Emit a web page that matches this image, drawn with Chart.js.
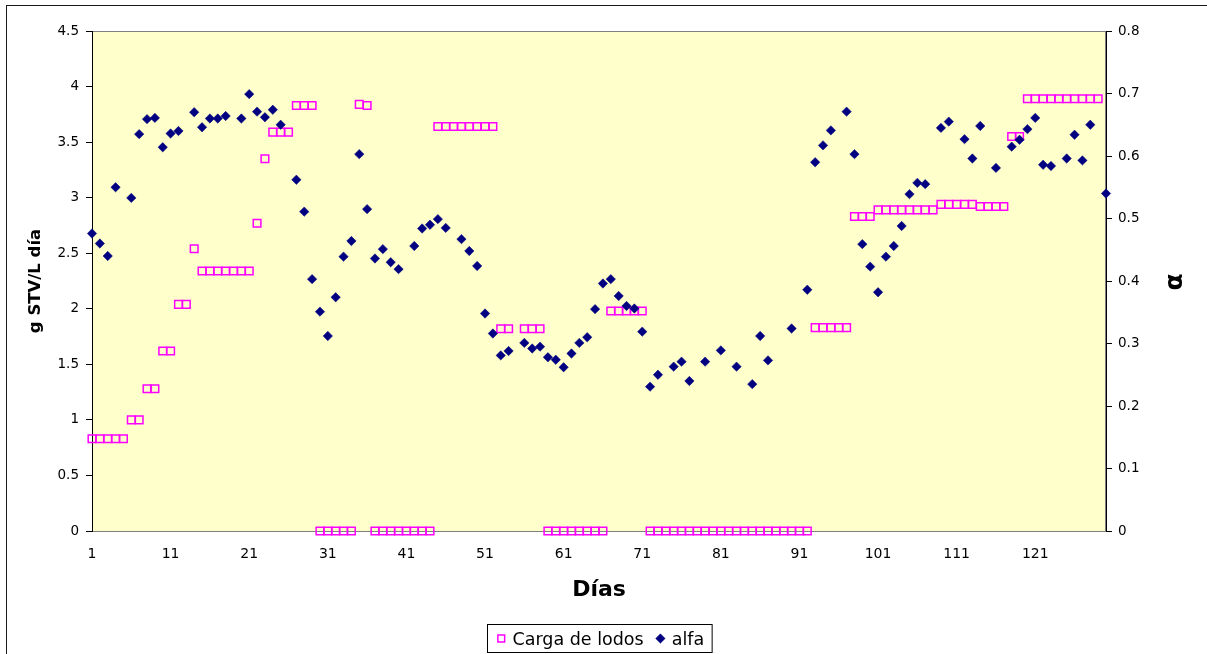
<!DOCTYPE html>
<html lang="es">
<head>
<meta charset="utf-8">
<title>Carga de lodos y alfa</title>
<script src="https://cdn.jsdelivr.net/npm/chart.js@4.4.1/dist/chart.umd.min.js"></script>
<style>
  html, body { margin: 0; padding: 0; background: #fff; overflow: hidden; width: 1207px; height: 654px; }
  #marco { position: absolute; left: 6px; top: 5px; width: 1300px; height: 800px; border: 1px solid #1a1a1a; box-sizing: border-box; }
  #grafico { position: absolute; left: 0; top: 0; }
</style>
</head>
<body>
<div id="marco"></div>
<canvas id="grafico" width="1207" height="654"></canvas>
<script>
// Días del ensayo (categorías del eje X)
const dias = Array.from({ length: 130 }, (_, i) => String(i + 1));
const diasRotulados = ['1', '11', '21', '31', '41', '51', '61', '71', '81', '91', '101', '111', '121'];

// Carga de lodos, g STV/L día (eje izquierdo); null = sin dato
const cargaLodos = [
  0.83, 0.83, 0.83, 0.83, 0.83, 1.00, 1.00, 1.28, 1.28, 1.62,
  1.62, 2.04, 2.04, 2.54, 2.34, 2.34, 2.34, 2.34, 2.34, 2.34,
  2.34, 2.77, 3.35, 3.59, 3.59, 3.59, 3.83, 3.83, 3.83, 0,
  0, 0, 0, 0, 3.84, 3.83, 0, 0, 0, 0,
  0, 0, 0, 0, 3.64, 3.64, 3.64, 3.64, 3.64, 3.64,
  3.64, 3.64, 1.82, 1.82, null, 1.82, 1.82, 1.82, 0, 0,
  0, 0, 0, 0, 0, 0, 1.98, 1.98, 1.98, 1.98,
  1.98, 0, 0, 0, 0, 0, 0, 0, 0, 0,
  0, 0, 0, 0, 0, 0, 0, 0, 0, 0,
  0, 0, 1.83, 1.83, 1.83, 1.83, 1.83, 2.83, 2.83, 2.83,
  2.89, 2.89, 2.89, 2.89, 2.89, 2.89, 2.89, 2.89, 2.94, 2.94,
  2.94, 2.94, 2.94, 2.92, 2.92, 2.92, 2.92, 3.55, 3.55, 3.89,
  3.89, 3.89, 3.89, 3.89, 3.89, 3.89, 3.89, 3.89, 3.89, null
];

// Factor alfa (eje derecho); null = sin dato
const alfa = [
  0.476, 0.460, 0.440, 0.550, null, 0.533, 0.635, 0.659, 0.661, 0.614,
  0.636, 0.640, null, 0.670, 0.646, 0.660, 0.660, 0.664, null, 0.660,
  0.699, 0.671, 0.662, 0.674, 0.650, null, 0.562, 0.511, 0.403, 0.351,
  0.312, 0.374, 0.439, 0.464, 0.603, 0.515, 0.436, 0.451, 0.430, 0.419,
  null, 0.456, 0.484, 0.490, 0.499, 0.485, null, 0.467, 0.448, 0.424,
  0.348, 0.316, 0.281, 0.288, null, 0.301, 0.292, 0.295, 0.278, 0.274,
  0.262, 0.284, 0.301, 0.310, 0.355, 0.396, 0.403, 0.376, 0.360, 0.356,
  0.319, 0.231, 0.250, null, 0.263, 0.271, 0.240, null, 0.271, null,
  0.289, null, 0.263, null, 0.235, 0.312, 0.273, null, null, 0.324,
  null, 0.386, 0.590, 0.617, 0.641, null, 0.671, 0.603, 0.459, 0.423,
  0.382, 0.439, 0.456, 0.488, 0.539, 0.557, 0.555, null, 0.645, 0.655,
  null, 0.627, 0.596, 0.648, null, 0.581, null, 0.615, 0.626, 0.643,
  0.661, 0.586, 0.584, null, 0.596, 0.634, 0.593, 0.650, null, 0.540
];

const ejeIzq = { min: 0, max: 4.5, paso: 0.5 };
const ejeDer = { min: 0, max: 0.8, paso: 0.1 };

const tituloX = 'Días';
const tituloIzq = 'g STV/L día';
const tituloDer = 'α';

const colorCarga = '#FF00FF';
const colorAlfa = '#000080';
const fondoGrafico = '#FFFFCC';
const familia = "'DejaVu Sans', sans-serif";

Chart.defaults.color = '#000';
Chart.defaults.font.family = familia;

// Fondo amarillo y marco gris del área de trazado
const fondoArea = {
  id: 'fondoArea',
  beforeDraw(chart) {
    const { ctx, chartArea: a } = chart;
    ctx.save();
    ctx.fillStyle = fondoGrafico;
    ctx.fillRect(a.left, a.top, a.right - a.left, a.bottom - a.top);
    ctx.strokeStyle = '#808080';
    ctx.lineWidth = 1;
    ctx.strokeRect(a.left + 0.5, a.top + 0.5, a.right - a.left - 1, a.bottom - a.top);
    ctx.restore();
  }
};

// Título del eje derecho (girado como el izquierdo) y leyenda enmarcada
const extras = {
  id: 'extras',
  afterDraw(chart) {
    const { ctx, chartArea: a } = chart;
    ctx.save();

    // α en el lado derecho
    ctx.translate(1175, (a.top + a.bottom) / 2 + 1);
    ctx.rotate(-Math.PI / 2);
    ctx.font = 'bold 25px ' + familia;
    ctx.textAlign = 'center';
    ctx.textBaseline = 'middle';
    ctx.fillStyle = '#000';
    ctx.fillText(tituloDer, 0, 0);
    ctx.setTransform(1, 0, 0, 1, 0, 0);

    // Leyenda
    ctx.font = '17.5px ' + familia;
    const sets = chart.data.datasets;
    const anchos = sets.map(ds => ctx.measureText(ds.label).width);
    const padIzq = 9, marca = 9.5, sepMarca = 6.5, sepItem = 12, padDer = 8;
    let total = padIzq + padDer;
    anchos.forEach((w, i) => { total += marca + sepMarca + w + (i < anchos.length - 1 ? sepItem : 0); });
    const cx = (a.left + a.right) / 2;
    const x0 = Math.round(cx - total / 2) + 0.5;
    const y0 = 624.5, alto = 28;
    ctx.fillStyle = '#fff';
    ctx.fillRect(x0, y0, total, alto);
    ctx.strokeStyle = '#000';
    ctx.lineWidth = 1;
    ctx.strokeRect(x0, y0, total, alto);

    let x = x0 + padIzq;
    const ym = y0 + 14;
    sets.forEach((ds, i) => {
      ctx.fillStyle = ds.pointBackgroundColor;
      ctx.strokeStyle = ds.pointBorderColor;
      ctx.lineWidth = ds.pointBorderWidth;
      Chart.helpers.drawPoint(ctx, {
        pointStyle: ds.pointStyle,
        radius: ds.pointStyle === 'rect' ? 4.8 : ds.pointRadius,
        rotation: 0,
        borderWidth: ds.pointBorderWidth
      }, x + marca / 2, ym);
      x += marca + sepMarca;
      ctx.fillStyle = '#000';
      ctx.textAlign = 'left';
      ctx.textBaseline = 'alphabetic';
      ctx.fillText(ds.label, x, y0 + 20.5);
      x += anchos[i] + sepItem;
    });
    ctx.restore();
  }
};

new Chart(document.getElementById('grafico'), {
  type: 'line',
  data: {
    labels: dias,
    datasets: [
      {
        label: 'Carga de lodos',
        data: cargaLodos,
        yAxisID: 'y',
        order: 2,
        showLine: false,
        clip: false,
        pointStyle: 'rect',
        pointRadius: 5.4,
        pointBorderWidth: 1.5,
        pointBorderColor: colorCarga,
        pointBackgroundColor: 'rgba(0,0,0,0)',
        borderColor: colorCarga,
        backgroundColor: 'rgba(0,0,0,0)'
      },
      {
        label: 'alfa',
        data: alfa,
        yAxisID: 'y1',
        order: 1,
        showLine: false,
        clip: false,
        pointStyle: 'rectRot',
        pointRadius: 4.7,
        pointBorderWidth: 0.5,
        pointBorderColor: colorAlfa,
        pointBackgroundColor: colorAlfa,
        borderColor: colorAlfa,
        backgroundColor: colorAlfa
      }
    ]
  },
  options: {
    responsive: false,
    animation: false,
    events: [],
    devicePixelRatio: 1,
    layout: { padding: { top: 31, left: 0, right: 0, bottom: 0 } },
    plugins: {
      legend: { display: false },
      tooltip: { enabled: false }
    },
    scales: {
      x: {
        type: 'category',
        offset: false,
        grid: { display: false, drawTicks: false },
        border: { display: true, color: '#808080', width: 1 },
        ticks: {
          autoSkip: false,
          maxRotation: 0,
          minRotation: 0,
          padding: 15,
          font: { size: 14 },
          callback(value, index) {
            const etiqueta = dias[index];
            return diasRotulados.includes(etiqueta) ? etiqueta : '';
          }
        },
        title: {
          display: true,
          text: tituloX,
          font: { size: 22, weight: 'bold' },
          padding: { top: 0, bottom: 51 }
        },
        afterFit(scale) { scale.height = 123; }
      },
      y: {
        position: 'left',
        min: ejeIzq.min,
        max: ejeIzq.max,
        grid: { display: true, drawOnChartArea: false, drawTicks: true, tickLength: 6, color: '#000' },
        border: { display: true, color: '#000', width: 1 },
        ticks: {
          stepSize: ejeIzq.paso,
          padding: 7,
          font: { size: 13.5 },
          callback(v) { return String(+v.toFixed(2)); }
        },
        title: {
          display: true,
          text: tituloIzq,
          font: { size: 16.5, weight: 'bold' },
          padding: { top: 26, bottom: 0 }
        },
        afterFit(scale) { scale.width = 92; }
      },
      y1: {
        position: 'right',
        min: ejeDer.min,
        max: ejeDer.max,
        grid: { display: true, drawOnChartArea: false, drawTicks: true, tickLength: 6, color: '#000' },
        border: { display: true, color: '#000', width: 1 },
        ticks: {
          stepSize: ejeDer.paso,
          padding: 6,
          font: { size: 13.5 },
          callback(v) { return String(+v.toFixed(2)); }
        },
        afterFit(scale) { scale.width = 101; }
      }
    }
  },
  plugins: [fondoArea, extras]
});
</script>
</body>
</html>
